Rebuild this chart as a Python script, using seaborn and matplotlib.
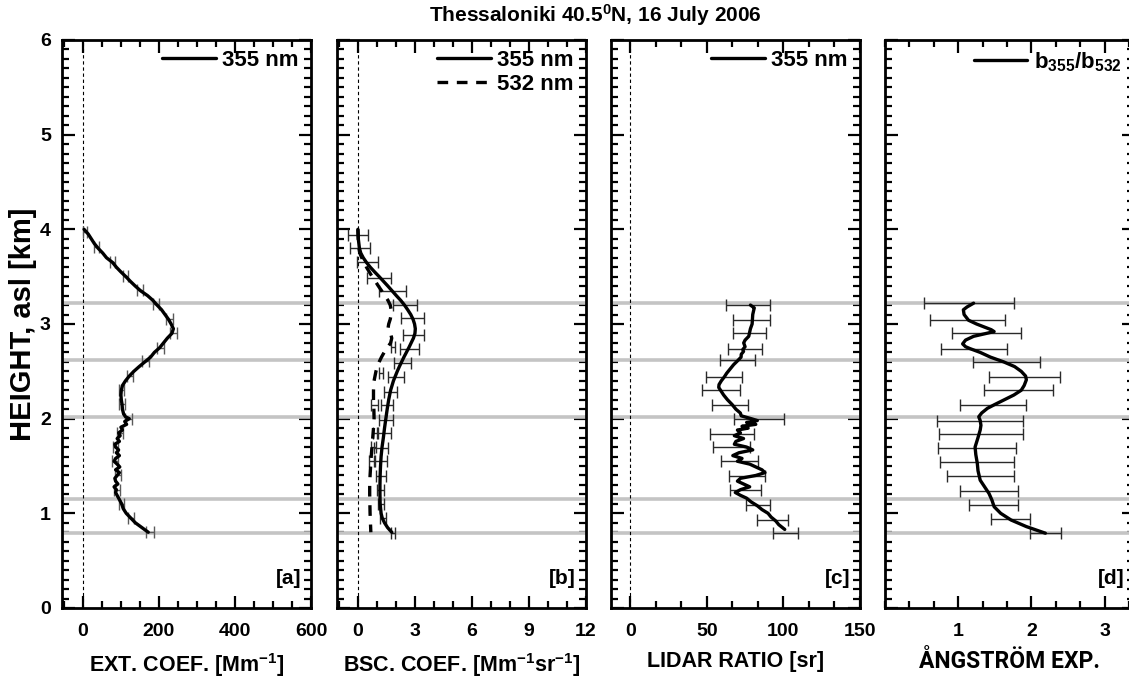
import numpy as np
import pandas as pd
import matplotlib
matplotlib.use('Agg')
import matplotlib.pyplot as plt
import seaborn as sns
from matplotlib.ticker import MultipleLocator, FixedLocator

# ---------------- data ----------------
title = 'Thessaloniki 40.5$^0$N, 16 July 2006'
layer_bounds = [0.79, 1.15, 2.02, 2.62, 3.22]

# [a] extinction 355 nm
ext_h = [4.00, 3.95, 3.90, 3.85, 3.80, 3.75, 3.70, 3.65, 3.60, 3.55, 3.50, 3.45, 3.40, 3.35, 3.30,
         3.25, 3.20, 3.15, 3.10, 3.05, 3.00, 2.95, 2.90, 2.85, 2.80, 2.75, 2.70, 2.65, 2.60, 2.55,
         2.50, 2.45, 2.40, 2.35, 2.30, 2.25, 2.20, 2.15, 2.10, 2.05, 2.02, 2.00, 1.97, 1.94, 1.91,
         1.88, 1.85, 1.82, 1.79, 1.76, 1.73, 1.70, 1.67, 1.64, 1.61, 1.58, 1.55, 1.52, 1.49, 1.46,
         1.43, 1.40, 1.37, 1.34, 1.31, 1.28, 1.25, 1.22, 1.19, 1.16, 1.13, 1.10, 1.05, 1.00, 0.95,
         0.90, 0.85, 0.80]
ext_355 = [3, 14, 22, 30, 40, 52, 62, 78, 88, 100, 113, 125, 138, 152, 170,
           184, 195, 207, 216, 225, 232, 238, 234, 222, 212, 202, 188, 178, 163, 148,
           134, 122, 112, 104, 101, 100, 101, 103, 104, 107, 112, 122, 110, 115, 100,
           104, 94, 98, 90, 96, 84, 86, 94, 88, 96, 86, 82, 90, 97, 86,
           96, 90, 84, 86, 92, 82, 88, 86, 90, 94, 98, 102, 106, 114, 126,
           138, 155, 172]
ext_err_h = [3.97, 3.81, 3.66, 3.51, 3.36, 3.21, 3.05, 2.90, 2.75, 2.61, 2.45, 2.30, 2.15,
             2.00, 1.85, 1.70, 1.55, 1.40, 1.25, 1.10, 0.95, 0.80]
ext_err_c = [6, 36, 78, 112, 150, 192, 228, 238, 204, 165, 124, 101, 103,
             120, 97, 86, 84, 92, 90, 102, 126, 176]
ext_err = [6, 7, 7, 7, 8, 8, 9, 9, 9, 9, 8, 7, 7, 9, 8, 7, 7, 7, 7, 7, 8, 10]

# [b] backscatter 355 / 532 nm
bsc_h = [4.00, 3.90, 3.80, 3.75, 3.70, 3.65, 3.60, 3.55, 3.50, 3.45, 3.40, 3.35, 3.30, 3.25,
         3.20, 3.15, 3.10, 3.05, 3.00, 2.95, 2.90, 2.85, 2.80, 2.75, 2.70, 2.65, 2.60, 2.55,
         2.50, 2.40, 2.30, 2.20, 2.10, 2.00, 1.90, 1.80, 1.70, 1.60, 1.50, 1.40, 1.30, 1.20,
         1.10, 1.00, 0.95, 0.90, 0.85, 0.80]
bsc_355 = [0.00, 0.02, 0.08, 0.15, 0.28, 0.45, 0.65, 0.88, 1.12, 1.35, 1.58, 1.80, 2.02, 2.25,
           2.45, 2.62, 2.78, 2.90, 2.98, 3.02, 3.00, 2.92, 2.80, 2.68, 2.55, 2.42, 2.30, 2.18,
           2.07, 1.87, 1.72, 1.62, 1.54, 1.47, 1.40, 1.34, 1.27, 1.22, 1.19, 1.17, 1.16, 1.16,
           1.17, 1.22, 1.28, 1.40, 1.56, 1.78]
bsc_532 = [0.00, 0.02, 0.05, 0.10, 0.20, 0.35, 0.45, 0.60, 0.75, 0.92, 1.08, 1.25, 1.42, 1.58,
           1.70, 1.75, 1.75, 1.70, 1.62, 1.58, 1.72, 1.78, 1.72, 1.55, 1.38, 1.24, 1.12, 1.02,
           0.95, 0.85, 0.82, 0.82, 0.84, 0.85, 0.82, 0.78, 0.74, 0.70, 0.67, 0.64, 0.62, 0.62,
           0.63, 0.64, 0.65, 0.66, 0.67, 0.68]
bsc355_err_h = [3.94, 3.80, 3.65, 3.49, 3.35, 3.20, 3.06, 2.88, 2.74, 2.59, 2.44, 2.28, 2.14,
                1.99, 1.85, 1.69, 1.55, 1.39, 1.25, 1.10, 0.95, 0.79]
bsc355_err_c = [0.02, 0.10, 0.50, 1.12, 1.82, 2.49, 2.86, 2.94, 2.71, 2.34, 2.00, 1.73, 1.55,
                1.49, 1.35, 1.23, 1.20, 1.22, 1.19, 1.20, 1.33, 1.86]
bsc355_err = [0.53, 0.53, 0.57, 0.62, 0.70, 0.63, 0.61, 0.55, 0.50, 0.43, 0.40, 0.34, 0.32,
              0.38, 0.37, 0.37, 0.35, 0.25, 0.20, 0.15, 0.17, 0.10]
bsc532_err_h = [2.76, 2.48, 2.14, 1.85, 1.70, 1.55]
bsc532_err_c = [1.85, 1.20, 0.88, 0.95, 0.82, 0.72]
bsc532_err = [0.12, 0.10, 0.20, 0.13, 0.15, 0.16]

# [c] lidar ratio 355 nm
lr_h = [3.20, 3.17, 3.15, 3.10, 3.05, 3.00, 2.95, 2.90, 2.87, 2.83, 2.80, 2.76, 2.73, 2.71,
        2.68, 2.65, 2.61, 2.57, 2.52, 2.48, 2.44, 2.40, 2.36, 2.33, 2.30, 2.25, 2.20, 2.15,
        2.10, 2.06, 2.03, 2.00, 1.98, 1.96, 1.94, 1.92, 1.90, 1.88, 1.85, 1.82, 1.79, 1.76,
        1.73, 1.70, 1.67, 1.64, 1.61, 1.58, 1.55, 1.52, 1.49, 1.46, 1.43, 1.40, 1.37, 1.34,
        1.31, 1.28, 1.25, 1.22, 1.19, 1.16, 1.12, 1.08, 1.04, 1.00, 0.96, 0.92, 0.88, 0.83]
lr_355 = [78.5, 81.0, 80.7, 80.0, 79.8, 79.6, 78.5, 77.8, 77.4, 75.0, 74.1, 75.0, 73.5, 74.0,
          72.5, 72.4, 70.0, 67.5, 65.0, 63.0, 61.4, 59.5, 58.0, 57.8, 59.0, 61.0, 63.5, 66.5,
          69.0, 71.9, 72.5, 79.0, 83.0, 76.0, 82.0, 73.0, 77.0, 70.0, 72.0, 68.0, 74.0, 69.0,
          68.0, 76.0, 80.0, 71.0, 67.0, 73.0, 70.0, 78.0, 82.0, 86.0, 88.0, 82.0, 72.0, 70.0,
          74.0, 78.0, 72.0, 68.6, 72.0, 76.0, 79.0, 83.0, 86.0, 90.0, 92.0, 95.0, 97.0, 100.9]
lr_err_h = [3.20, 3.04, 2.90, 2.74, 2.62, 2.44, 2.30, 2.14, 2.00, 1.84, 1.70, 1.55, 1.39,
            1.25, 1.09, 0.93, 0.79]
lr_err_c = [76.8, 79.2, 77.7, 74.9, 69.9, 61.3, 59.1, 65.0, 84.0, 66.4, 66.2, 71.3, 76.3,
            75.1, 83.2, 93.1, 101.6]
lr_err = [14.2, 12.2, 10.7, 11.3, 11.3, 11.5, 12.3, 11.9, 16.5, 14.1, 12.2, 12.0, 12.0,
          10.1, 7.9, 10.1, 8.1]

# [d] Angstrom exponent b355/b532
ae_h = [3.22, 3.18, 3.15, 3.10, 3.04, 3.00, 2.97, 2.94, 2.92, 2.90, 2.87, 2.83, 2.79, 2.76,
        2.74, 2.70, 2.65, 2.60, 2.55, 2.50, 2.45, 2.41, 2.35, 2.30, 2.25, 2.20, 2.15, 2.11,
        2.06, 2.02, 1.98, 1.93, 1.88, 1.80, 1.70, 1.62, 1.53, 1.45, 1.35, 1.28, 1.21, 1.14,
        1.07, 1.00, 0.93, 0.86, 0.79]
ae_val = [1.21, 1.12, 1.07, 1.08, 1.14, 1.25, 1.35, 1.45, 1.49, 1.38, 1.21, 1.10, 1.06, 1.10,
          1.16, 1.30, 1.44, 1.62, 1.77, 1.86, 1.92, 1.93, 1.90, 1.86, 1.76, 1.63, 1.50, 1.40,
          1.32, 1.28, 1.30, 1.31, 1.30, 1.27, 1.23, 1.24, 1.26, 1.27, 1.30, 1.36, 1.42, 1.46,
          1.49, 1.58, 1.72, 1.93, 2.19]
ae_err_h = [3.22, 3.04, 2.90, 2.74, 2.60, 2.44, 2.30, 2.14, 1.98, 1.84, 1.69, 1.54, 1.39,
            1.24, 1.09, 0.94, 0.79]
ae_lo = [0.53, 0.62, 0.92, 0.76, 1.20, 1.42, 1.35, 1.02, 0.71, 0.74, 0.73, 0.75, 0.85,
         1.02, 1.15, 1.45, 1.98]
ae_hi = [1.76, 1.64, 1.86, 1.66, 2.12, 2.39, 2.29, 1.92, 1.89, 1.89, 1.79, 1.76, 1.76,
         1.82, 1.82, 1.98, 2.40]

xlabels = ['EXT. COEF. [Mm$^{-1}$]', 'BSC. COEF. [Mm$^{-1}$sr$^{-1}$]',
           'LIDAR RATIO [sr]', '\u00c5NGSTR\u00d6M EXP.']
panel_tags = ['[a]', '[b]', '[c]', '[d]']

# ---------------- style ----------------
sns.set_style('ticks')
FONT = ['Liberation Sans Narrow', 'Liberation Sans', 'DejaVu Sans']
plt.rcParams['font.family'] = FONT
plt.rcParams['font.weight'] = 'bold'
plt.rcParams['mathtext.default'] = 'regular'
plt.rcParams['axes.linewidth'] = 2.0
for k in ['text.color', 'axes.labelcolor', 'xtick.color', 'ytick.color', 'axes.edgecolor']:
    plt.rcParams[k] = 'black'

fig = plt.figure(figsize=(11.29, 6.79), dpi=100)
W, H = 1129.0, 679.0
top_px, bot_px = 40, 608
lefts_px = [62, 337, 611, 885]
w_px = 249
axes = [fig.add_axes([l / W, 1 - bot_px / H, w_px / W, (bot_px - top_px) / H]) for l in lefts_px]

xlims = [(-55, 600), (-1.1, 12), (-12.5, 150), (0, 3.4)]
xmajor = [[0, 200, 400, 600], [0, 3, 6, 9, 12], [0, 50, 100, 150], [1, 2, 3]]
xminor = [50, 1, 50 / 3, 1 / 3]

LW = 2.4
ERRC = '#2a2a2a'
ebkw = dict(fmt='none', ecolor=ERRC, elinewidth=1.0, capsize=4, capthick=1.0, zorder=3)

for i, ax in enumerate(axes):
    for hb in layer_bounds:
        ax.axhline(hb, color='#c4c4c4', lw=2.6, zorder=1)
    if i < 3:
        ax.axvline(0, color='black', lw=0.8, ls=(0, (3, 2.5)), zorder=1)

# [a]
ax = axes[0]
ax.errorbar(ext_err_c, ext_err_h, xerr=ext_err, **{**ebkw, 'ecolor': '#5a5a5a'})
sns.lineplot(x=ext_355, y=ext_h, orient='y', sort=False, estimator=None, ax=ax,
             color='black', lw=LW, label='355 nm', zorder=4)

# [b]
ax = axes[1]
ax.errorbar(bsc355_err_c, bsc355_err_h, xerr=bsc355_err, **ebkw)
ax.errorbar(bsc532_err_c, bsc532_err_h, xerr=bsc532_err, **ebkw)
sns.lineplot(x=bsc_355, y=bsc_h, orient='y', sort=False, estimator=None, ax=ax,
             color='black', lw=LW, label='355 nm', zorder=4)
sns.lineplot(x=bsc_532, y=bsc_h, orient='y', sort=False, estimator=None, ax=ax,
             color='black', lw=LW, label='532 nm', zorder=4)
ax.lines[-1].set_linestyle((0, (3.2, 2.6)))

# [c]
ax = axes[2]
ax.errorbar(lr_err_c, lr_err_h, xerr=lr_err, **ebkw)
sns.lineplot(x=lr_355, y=lr_h, orient='y', sort=False, estimator=None, ax=ax,
             color='black', lw=LW, label='355 nm', zorder=4)

# [d]
ax = axes[3]
ae_c = [(a + b) / 2 for a, b in zip(ae_lo, ae_hi)]
ae_e = [(b - a) / 2 for a, b in zip(ae_lo, ae_hi)]
ax.errorbar(ae_c, ae_err_h, xerr=ae_e, **ebkw)
sns.lineplot(x=ae_val, y=ae_h, orient='y', sort=False, estimator=None, ax=ax,
             color='black', lw=LW, label='b$_{355}$/b$_{532}$', zorder=4)

for i, ax in enumerate(axes):
    ax.set_xlim(*xlims[i])
    ax.set_ylim(0, 6)
    ax.xaxis.set_major_locator(FixedLocator(xmajor[i]))
    ax.xaxis.set_minor_locator(MultipleLocator(xminor[i]))
    ax.yaxis.set_major_locator(MultipleLocator(1))
    ax.yaxis.set_minor_locator(MultipleLocator(0.1))
    ax.tick_params(which='both', direction='in', top=True, right=True, labelsize=14)
    ax.tick_params(axis='x', which='both', pad=11)
    ax.tick_params(axis='y', which='both', pad=8)
    ax.tick_params(which='major', length=9, width=1.6)
    ax.tick_params(which='minor', length=5, width=1.6)
    ax.set_xticklabels([str(v) for v in xmajor[i]])
    for lab in ax.get_xticklabels() + ax.get_yticklabels():
        lab.set_fontweight('bold')
    lab_family = FONT if i < 3 else ['Roboto', 'DejaVu Sans']
    if i > 0:
        ax.set_yticklabels([])
    ax.set_xlabel(xlabels[i], fontsize=15.5 if i < 3 else 16.5, fontweight='bold',
                  labelpad=8 if i < 3 else 7, family=lab_family)
    ax.set_ylabel('')
    ax.text(0.96, 0.035, panel_tags[i], transform=ax.transAxes, ha='right', va='bottom',
            fontsize=15, fontweight='bold')
    ax.legend(loc='upper right', bbox_to_anchor=(1.0, 1.004), frameon=False, handlelength=2.4,
              handletextpad=0.3, borderaxespad=0.15, labelspacing=0.12,
              prop={'weight': 'bold', 'size': 16, 'family': FONT})

axes[0].set_ylabel('HEIGHT, asl [km]', fontsize=21, fontweight='bold', labelpad=2)
fig.text(0.527, 0.978, title, ha='center', va='center', fontsize=15, fontweight='bold')

fig.savefig('out.png', dpi=100)
